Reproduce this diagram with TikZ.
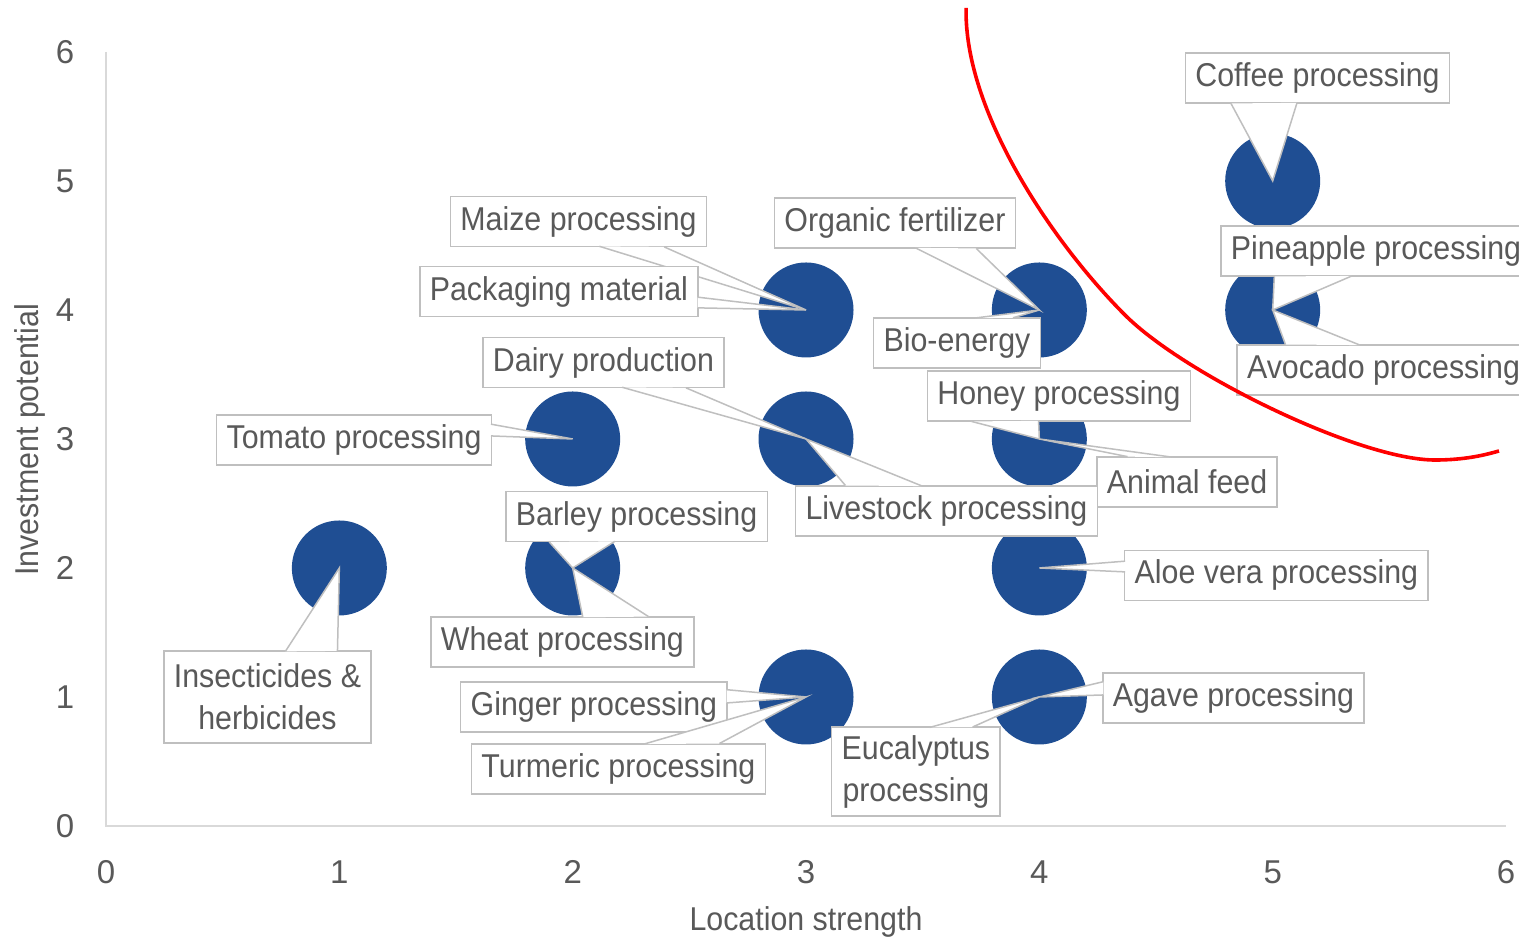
\documentclass[tikz,border=0pt]{standalone}
\usepackage{fontspec}
\setmainfont{Liberation Sans}
\newfontfamily\labelfont[FakeStretch=0.92]{Liberation Sans}
\usepackage{tikz}
\usetikzlibrary{calc}
\definecolor{bubbleblue}{RGB}{31,78,147}
\definecolor{boxgray}{RGB}{191,191,191}
\definecolor{textgray}{RGB}{89,89,89}
\definecolor{axisgray}{RGB}{217,217,217}

\begin{document}
\begin{tikzpicture}[x=116.667pt, y=64.5pt,
        bubble/.style={circle, fill=bubbleblue, minimum size=47.5pt, inner sep=0pt},
        lbl/.style={draw=boxgray, fill=white, line width=0.75pt, text=textgray,
            font=\labelfont\fontsize{16.5}{21}\selectfont, inner xsep=5pt, inner ysep=4pt,
            align=center},
        wedge/.style={draw=boxgray, fill=white, line width=0.75pt},
        tick/.style={text=textgray, font=\fontsize{16.5}{20}\selectfont}]
        \useasboundingbox (-0.4543,-0.907) rectangle (6.0557,6.403);
        \clip (-0.4543,-0.907) rectangle (6.0557,6.403);
        \draw [axisgray, line width=1pt] (0,6) -- (0,0) -- (6,0);
        \foreach \x in {0,...,6}
            \node[tick] at (\x,-0.357) {\x};
        \foreach \y in {0,...,6}
            \node[tick] at (-0.176,\y) {\y};
        \node[tick, font=\labelfont\fontsize{16.5}{20}\selectfont, rotate=90] (ytitle) at (-0.326,2.992) {Investment potential};
        \node[tick, font=\labelfont\fontsize{16.5}{20}\selectfont] (xtitle) at (3,-0.744) {Location strength};
        \foreach \bx/\by in {1/2,2/3,2/2,3/4,3/3,3/1,4/4,4/3,4/2,4/1,5/5,5/4}
            \node[bubble] (b\bx\by) at (\bx,\by) {};
        \foreach \nm/\lx/\ly/\mh/\tip/\ca/\cb/\fa/\fb/\txt in {
                coffee/5.192/5.798/25pt/b55/south west/south east/0.17/0.42/{Coffee processing},
                pineapple/5.443/4.457/25pt/b54/south west/south east/0.17/0.42/{Pineapple processing},
                avocado/5.475/3.535/25pt/b54/north west/north east/0.163/0.417/{Avocado processing},
                maize/2.025/4.686/25pt/b34/south west/south east/0.584/0.837/{Maize processing},
                packaging/1.941/4.143/25pt/b34/south east/north east/0.18/0.39/{Packaging material},
                organic/3.381/4.674/25pt/b44/south west/south east/0.588/0.84/{Organic fertilizer},
                bio/3.647/3.744/25pt/b44/north west/north east/0.60/0.84/{Bio-energy},
                dairy/2.132/3.593/25pt/b33/south west/south east/0.58/0.845/{Dairy production},
                tomato/1.063/2.992/25pt/b23/south east/north east/0.58/0.81/{Tomato processing},
                honey/4.084/3.333/25pt/b43/south west/south east/0.165/0.42/{Honey processing},
                animal/4.633/2.667/25pt/b43/north west/north east/0.167/0.417/{Animal feed},
                livestock/3.602/2.442/25pt/b33/north west/north east/0.163/0.417/{Livestock processing},
                barley/2.274/2.399/25pt/b22/south west/south east/0.163/0.414/{Barley processing},
                wheat/1.956/1.426/25pt/b22/north west/north east/0.58/0.83/{Wheat processing},
                insect/0.692/1.0/46pt/b12/north west/north east/0.588/0.84/{Insecticides \&\\herbicides},
                ginger/2.091/0.922/25pt/b31/south east/north east/0.58/0.84/{Ginger processing},
                turmeric/2.196/0.442/25pt/b31/north west/north east/0.59/0.846/{Turmeric processing},
                eucalyptus/3.471/0.422/44.5pt/b41/north west/north east/0.583/0.839/{Eucalyptus\\processing},
                agave/4.832/0.992/25pt/b41/south west/north west/0.56/0.82/{Agave processing},
                aloe/5.016/1.942/25pt/b42/south west/north west/0.57/0.78/{Aloe vera processing}}
        {
            \node[lbl, minimum height=\mh] (\nm) at (\lx,\ly) {\txt};
            \filldraw[wedge] ($(\nm.\ca)!\fa!(\nm.\cb)!0.6pt!(\nm.center)$) -- (\tip.center)
                -- ($(\nm.\ca)!\fb!(\nm.\cb)!0.6pt!(\nm.center)$);
        }
        \draw [red, line width=1.8pt] (3.686,6.341) .. controls (3.677,5.550) and (4.046,4.543) .. (4.367,3.961)
            .. controls (4.624,3.496) and (5.374,2.837) .. (5.696,2.837)
            .. controls (5.824,2.837) and (5.910,2.876) .. (5.970,2.907);
    \end{tikzpicture}
\end{document}
